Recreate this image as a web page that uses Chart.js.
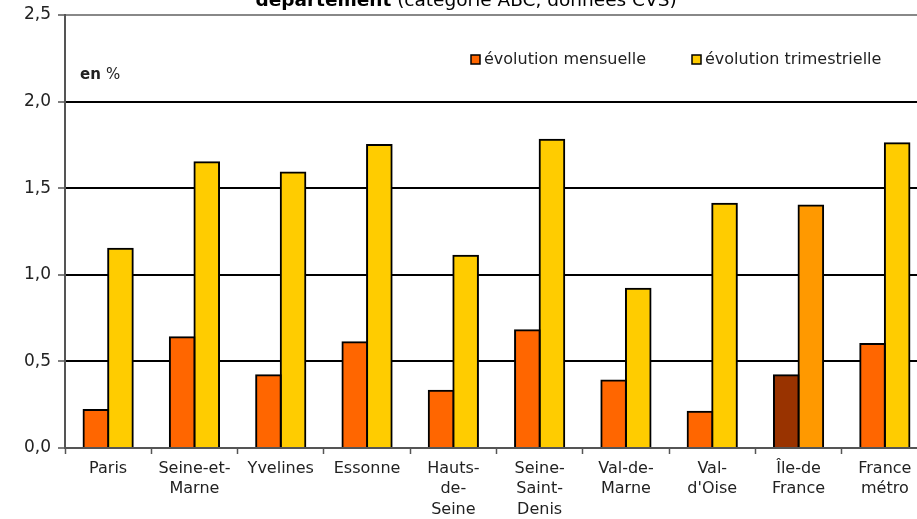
<!DOCTYPE html>
<html>
<head>
<meta charset="utf-8">
<script src="https://cdn.jsdelivr.net/npm/chart.js@4/dist/chart.umd.min.js"></script>
<style>
  html, body { margin: 0; padding: 0; background: #fff; overflow: hidden; }
  #wrap { width: 940px; height: 519px; }
</style>
</head>
<body>
<div id="wrap"><canvas id="evolChart" width="940" height="519"></canvas></div>
<script>
// demandeurs d'emploi par département, catégorie ABC, données CVS (en %)
const departements = [
    'Paris', ['Seine-et-', 'Marne'], 'Yvelines', 'Essonne', ['Hauts-', 'de-', 'Seine'],
    ['Seine-', 'Saint-', 'Denis'], ['Val-de-', 'Marne'], ['Val-', "d'Oise"], ['Île-de', 'France'], ['France', 'métro']
];
const evolMensuelle = [0.22, 0.64, 0.42, 0.61, 0.33, 0.68, 0.39, 0.21, 0.42, 0.60];
const evolTrimestrielle = [1.15, 1.65, 1.59, 1.75, 1.11, 1.78, 0.92, 1.41, 1.40, 1.76];
const yTicks = [0, 0.5, 1.0, 1.5, 2.0, 2.5];

const FONT = 'DejaVu Sans';

// Île-de-France gets its own shades
const colMensuelle = departements.map((d, i) => i === 8 ? '#993300' : '#ff6600');
const colTrimestrielle = departements.map((d, i) => i === 8 ? '#ff9900' : '#ffcc00');

const decor = {
    id: 'decor',
    afterDraw(chart) {
        const c = chart.ctx;
        c.save();
        // title (top is cut off)
        c.fillStyle = '#000';
        c.textBaseline = 'alphabetic';
        const t1 = 'département';
        const t2 = ' (catégorie ABC, données CVS)';
        c.font = 'bold 18.5px ' + FONT;
        const w1 = c.measureText(t1).width;
        c.font = '18.5px ' + FONT;
        const w2 = c.measureText(t2).width;
        let x = 466 - (w1 + w2) / 2;
        c.font = 'bold 18.5px ' + FONT;
        c.fillText(t1, x, 6);
        c.font = '18.5px ' + FONT;
        c.fillText(t2, x + w1, 6);

        // unit
        c.fillStyle = '#222';
        c.textBaseline = 'middle';
        c.font = 'bold 15px ' + FONT;
        c.fillText('en', 80, 75);
        const we = c.measureText('en ').width;
        c.font = '15px ' + FONT;
        c.fillText('%', 80 + we, 75);

        // legend
        const items = [
            { x: 471, color: '#ff6600', label: 'évolution mensuelle' },
            { x: 692, color: '#ffcc00', label: 'évolution trimestrielle' }
        ];
        c.font = '16px ' + FONT;
        items.forEach(it => {
            c.fillStyle = it.color;
            c.fillRect(it.x, 55, 9, 9);
            c.strokeStyle = '#000';
            c.lineWidth = 1.5;
            c.strokeRect(it.x, 55, 9, 9);
            c.fillStyle = '#222';
            c.fillText(it.label, it.x + 13, 60);
        });
        c.restore();
    }
};

const ctx = document.getElementById('evolChart').getContext('2d');
new Chart(ctx, {
    type: 'bar',
    data: {
        labels: departements,
        datasets: [
            {
                label: 'évolution mensuelle',
                data: evolMensuelle,
                backgroundColor: colMensuelle,
                borderColor: '#000',
                borderWidth: 2,
                inflateAmount: 1
            },
            {
                label: 'évolution trimestrielle',
                data: evolTrimestrielle,
                backgroundColor: colTrimestrielle,
                borderColor: '#000',
                borderWidth: 2,
                inflateAmount: 1
            }
        ]
    },
    options: {
        responsive: false,
        animation: false,
        devicePixelRatio: 1,
        datasets: { bar: { categoryPercentage: 0.57, barPercentage: 1 } },
        layout: { padding: { top: 15, right: 12, left: 0, bottom: 0 } },
        plugins: {
            legend: { display: false },
            tooltip: { enabled: false }
        },
        scales: {
            x: {
                grid: {
                    offset: true,
                    drawOnChartArea: false,
                    tickLength: 6,
                    tickColor: '#555',
                    tickWidth: 1.5
                },
                border: { color: '#555', width: 2 },
                ticks: {
                    color: '#222',
                    font: { family: FONT, size: 16, lineHeight: 1.3 },
                    maxRotation: 0,
                    autoSkip: false,
                    padding: 4
                },
                afterFit(scale) { scale.height = 71; }
            },
            y: {
                min: 0,
                max: 2.5,
                afterBuildTicks(scale) { scale.ticks = yTicks.map(v => ({ value: v })); },
                grid: {
                    color: c => c.tick.value === 2.5 ? '#888' : (c.tick.value === 0 ? '#555' : '#000'),
                    lineWidth: 2,
                    tickLength: 7,
                    tickColor: '#555',
                    tickWidth: 1.5
                },
                border: { color: '#555', width: 2 },
                ticks: {
                    color: '#222',
                    font: { family: FONT, size: 17, lineHeight: 1 },
                    padding: 7,
                    callback: v => v.toFixed(1).replace('.', ',')
                },
                afterFit(scale) {
                    scale.width = 65;
                    scale.paddingTop = 0;
                    scale.paddingBottom = 0;
                }
            }
        }
    },
    plugins: [decor]
});
</script>
</body>
</html>
